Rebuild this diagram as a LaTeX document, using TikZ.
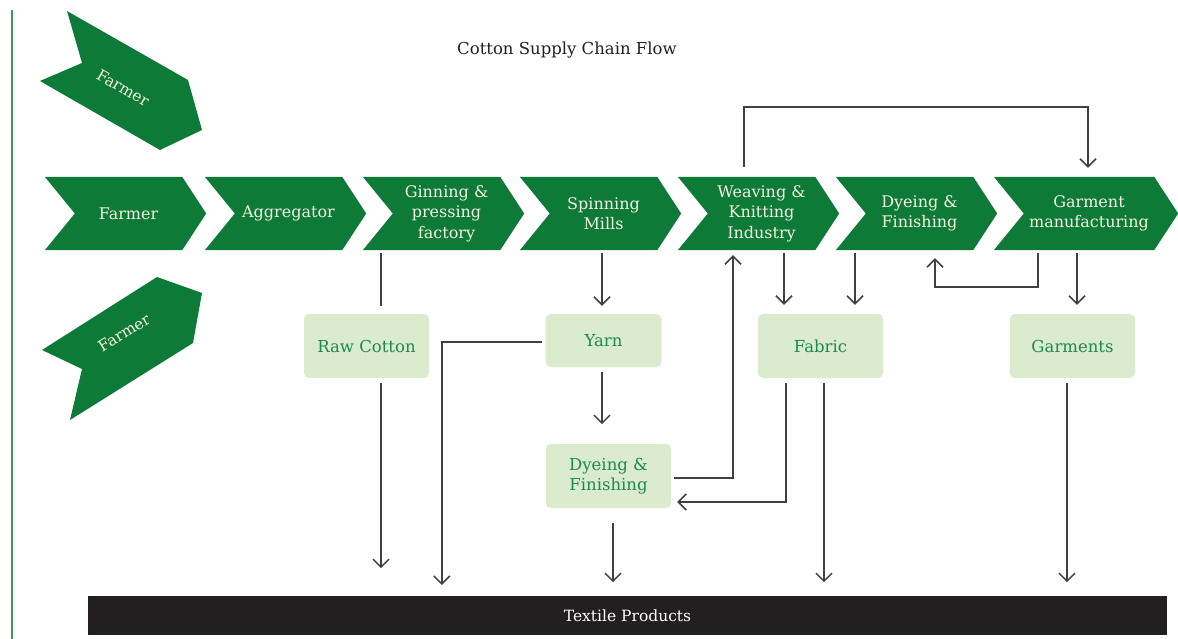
\documentclass[tikz,border=0pt]{standalone}
\usepackage{fontspec}
\setmainfont{DejaVu Serif}
\usetikzlibrary{arrows.meta,backgrounds}
\definecolor{cgreen}{HTML}{0E7A37}
\definecolor{chevtxt}{HTML}{F4F2E2}
\definecolor{lightbox}{HTML}{DAEBCE}
\definecolor{boxtxt}{HTML}{1D8A4C}
\definecolor{linegray}{HTML}{404040}
\definecolor{barblack}{HTML}{231F20}
\definecolor{leftgreen}{HTML}{3A9B55}
\newcommand{\chevshape}[1]{%
  \fill[cgreen] ([xshift=-30pt]#1.north west) -- (#1.north east) -- ([xshift=24pt]#1.east) -- (#1.south east) -- ([xshift=-30pt]#1.south west) -- (#1.west) -- cycle;}
\begin{document}
\begin{tikzpicture}[x=1pt,y=-1pt,
  chevtext/.style={minimum height=73pt, inner sep=0pt, align=center, text=chevtxt, font=\fontsize{16}{20.5}\selectfont},
  prodbox/.style={fill=lightbox, rounded corners=5pt, align=center, text=boxtxt, font=\fontsize{16.5}{20}\selectfont, inner sep=0pt, minimum width=125pt, minimum height=64pt},
  conn/.style={draw=linegray, line width=1.5pt},
  arr/.style={conn, -{Straight Barb[length=8pt,width=16pt]}},
]
\useasboundingbox (0,0) rectangle (1178,639);
\draw[leftgreen, line width=2.2pt] (12,10) -- (12,639);

% title
\node[font=\fontsize{16.5}{19}\selectfont, text=barblack] (title) at (567,50) {Cotton Supply Chain Flow};

% rotated farmers
\fill[cgreen] (67,11) -- (188,80) -- (202,130) -- (160,150) -- (40,81) -- (82,63) -- cycle;
\node[rotate=-30, text=chevtxt, font=\fontsize{15.5}{18}\selectfont] (farmerA) at (123,88) {Farmer};
\fill[cgreen] (157,277) -- (202,293) -- (193,343) -- (70,420) -- (82,369) -- (42,350) -- cycle;
\node[rotate=32, text=chevtxt, font=\fontsize{15.5}{18}\selectfont] (farmerB) at (124,333) {Farmer};

% main chain
\node[chevtext, minimum width=107pt] (farmer) at (128.5,213.5) {Farmer};
\node[chevtext, minimum width=107pt] (aggregator) at (288.5,213.5) {Aggregator};
\node[chevtext, minimum width=107pt] (ginning) at (446.5,213.5) {Ginning \&\\pressing\\factory};
\node[chevtext, minimum width=107pt] (spinning) at (603.5,213.5) {Spinning\\Mills};
\node[chevtext, minimum width=107pt] (weaving) at (761.5,213.5) {Weaving \&\\Knitting\\Industry};
\node[chevtext, minimum width=107pt] (dyeing) at (919.5,213.5) {Dyeing \&\\Finishing};
\node[chevtext, minimum width=130pt] (garment) at (1089,213.5) {Garment\\manufacturing};
\begin{scope}[on background layer]
  \chevshape{farmer}
  \chevshape{aggregator}
  \chevshape{ginning}
  \chevshape{spinning}
  \chevshape{weaving}
  \chevshape{dyeing}
  \chevshape{garment}
\end{scope}

% product boxes
\node[prodbox] (raw) at (366.5,346) {Raw Cotton};
\node[prodbox, minimum width=116pt, minimum height=53pt] (yarn) at (603.5,340.5) {Yarn};
\node[prodbox] (dye2) at (608.5,476) {Dyeing \&\\Finishing};
\node[prodbox] (fabric) at (820.5,346) {Fabric};
\node[prodbox] (garments) at (1072.5,346) {Garments};

% bottom bar
\node[fill=barblack, minimum width=1079pt, minimum height=39pt, inner sep=0pt, text=white, font=\fontsize{15.5}{18}\selectfont] (bar) at (627.5,615.5) {Textile Products};

% connectors
\draw[conn] ([xshift=-65.5pt,yshift=-3pt]ginning.south) -- ([xshift=14.5pt,yshift=8pt]raw.north);
\draw[arr] ([xshift=14.5pt,yshift=-5pt]raw.south) -- ++(0,185);
\draw[arr] ([xshift=-3pt,yshift=-1.5pt]yarn.west) -- ++(-100.5,0) -- ++(0,243);
\draw[arr] ([xshift=-1.5pt,yshift=-3pt]spinning.south) -- ([xshift=-1.5pt,yshift=8pt]yarn.north);
\draw[arr] ([xshift=-1.5pt,yshift=-5pt]yarn.south) -- ++(0,52);
\draw[arr] ([xshift=3pt,yshift=-2pt]dye2.east) -| ([xshift=-28.5pt,yshift=-5pt]weaving.south);
\draw[arr] ([xshift=-34.5pt,yshift=-5pt]fabric.south) |- ([xshift=6pt,yshift=-26pt]dye2.east);
\draw[arr] ([xshift=3.5pt,yshift=-5pt]fabric.south) -- ++(0,199);
\draw[arr] ([xshift=22.5pt,yshift=-3pt]weaving.south) -- ([xshift=-36.5pt,yshift=9pt]fabric.north);
\draw[arr] ([xshift=-64.5pt,yshift=-3pt]dyeing.south) -- ([xshift=34.5pt,yshift=9pt]fabric.north);
\draw[arr] ([xshift=-51pt,yshift=-3pt]garment.south) -- ++(0,34) -| ([xshift=15.5pt,yshift=-8pt]dyeing.south);
\draw[arr] ([xshift=-12pt,yshift=-3pt]garment.south) -- ([xshift=4.5pt,yshift=9pt]garments.north);
\draw[arr] ([xshift=-5.5pt,yshift=-5pt]garments.south) -- ++(0,199);
\draw[arr] ([xshift=4.5pt,yshift=-15pt]dye2.south) -- ++(0,59);
\draw[arr] ([xshift=-17.5pt,yshift=10pt]weaving.north) -- ++(0,-60) -| ([xshift=-1pt,yshift=9pt]garment.north);
\end{tikzpicture}
\end{document}
